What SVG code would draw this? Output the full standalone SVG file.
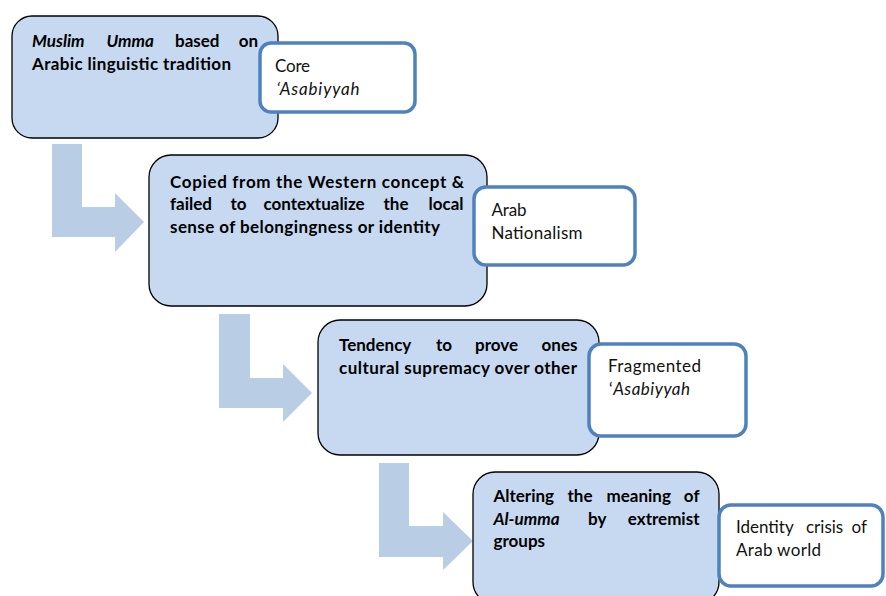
<svg xmlns="http://www.w3.org/2000/svg" width="886" height="596" viewBox="0 0 886 596">
  <style>
    .box { fill: #C6D9F1; stroke: #000; stroke-width: 1.3; }
    .tag { fill: #FFFFFF; stroke: #4F81BD; stroke-width: 3.5; }
    .flow { fill: #B9CDE5; stroke: none; }
    .b { font-family: Lato, "Liberation Sans", Arial, sans-serif; font-size: 17px; font-weight: bold; fill: #000; }
    .r { font-family: Lato, "Liberation Sans", Arial, sans-serif; font-size: 17px; fill: #111; }
    .i { font-style: italic; }
    .e { text-anchor: end; }
  </style>

  <!-- bent arrows linking each stage to the next -->
  <g id="connectors">
    <polygon class="flow" points="52,144 82,144 82,207 115,207 115,193 144,222 115,252 115,237 52,237"/>
    <polygon class="flow" points="219,314 250,314 250,378 283,378 283,364 312,393 283,422 283,408 219,408"/>
    <polygon class="flow" points="379,463 409,463 409,526 443,526 443,512 473,541 443,570 443,557 379,557"/>
  </g>

  <!-- stage 1 -->
  <g id="stage1">
    <rect class="box" x="12" y="16" width="266" height="122" rx="20" ry="20"/>
    <text class="b" y="47"><tspan class="i" x="32">Muslim</tspan><tspan class="i" x="106.5">Umma</tspan><tspan x="175">based</tspan><tspan class="e" x="258">on</tspan></text>
    <text class="b" x="32" y="69.5" textLength="199" lengthAdjust="spacing">Arabic linguistic tradition</text>
  </g>
  <g id="tag1">
    <rect class="tag" x="260" y="43" width="155" height="69" rx="11" ry="11"/>
    <text class="r" x="275" y="72" textLength="35" lengthAdjust="spacing">Core</text>
    <text class="r i" x="276.5" y="94.5" textLength="83" lengthAdjust="spacing">‘Asabiyyah</text>
  </g>

  <!-- stage 2 -->
  <g id="stage2">
    <rect class="box" x="149" y="155" width="338" height="151" rx="22" ry="22"/>
    <text class="b" x="170" y="187.5" textLength="294" lengthAdjust="spacing">Copied from the Western concept &amp;</text>
    <text class="b" y="210"><tspan x="170">failed</tspan><tspan x="230.5">to</tspan><tspan x="263.5">contextualize</tspan><tspan x="383.5">the</tspan><tspan class="e" x="463.5">local</tspan></text>
    <text class="b" x="170" y="233" textLength="270" lengthAdjust="spacing">sense of belongingness or identity</text>
  </g>
  <g id="tag2">
    <rect class="tag" x="474" y="187" width="161" height="78" rx="12" ry="12"/>
    <text class="r" x="491.5" y="216" textLength="35" lengthAdjust="spacing">Arab</text>
    <text class="r" x="491.5" y="239" textLength="91" lengthAdjust="spacing">Nationalism</text>
  </g>

  <!-- stage 3 -->
  <g id="stage3">
    <rect class="box" x="318" y="320" width="281" height="135" rx="22" ry="22"/>
    <text class="b" y="351"><tspan x="339">Tendency</tspan><tspan x="436">to</tspan><tspan x="475">prove</tspan><tspan class="e" x="577.5">ones</tspan></text>
    <text class="b" x="339" y="373.5" textLength="238" lengthAdjust="spacing">cultural supremacy over other</text>
  </g>
  <g id="tag3">
    <rect class="tag" x="589" y="344" width="157" height="92" rx="12" ry="12"/>
    <text class="r" x="608" y="372" textLength="93" lengthAdjust="spacing">Fragmented</text>
    <text class="r" x="609" y="395" textLength="81" lengthAdjust="spacing">‘<tspan class="i">Asabiyyah</tspan></text>
  </g>

  <!-- stage 4 -->
  <g id="stage4">
    <rect class="box" x="473" y="472" width="246" height="132" rx="22" ry="22"/>
    <text class="b" y="502"><tspan x="493.5">Altering</tspan><tspan x="567.5">the</tspan><tspan x="606.5">meaning</tspan><tspan class="e" x="699.5">of</tspan></text>
    <text class="b" y="525"><tspan class="i" x="493.5">Al-umma</tspan><tspan x="588">by</tspan><tspan class="e" x="699.5">extremist</tspan></text>
    <text class="b" x="493.5" y="547">groups</text>
  </g>
  <g id="tag4">
    <rect class="tag" x="719" y="505" width="164" height="81" rx="12" ry="12"/>
    <text class="r" y="533"><tspan x="736">Identity</tspan><tspan x="806">crisis</tspan><tspan class="e" x="867">of</tspan></text>
    <text class="r" x="736" y="556" textLength="85" lengthAdjust="spacing">Arab world</text>
  </g>
</svg>
